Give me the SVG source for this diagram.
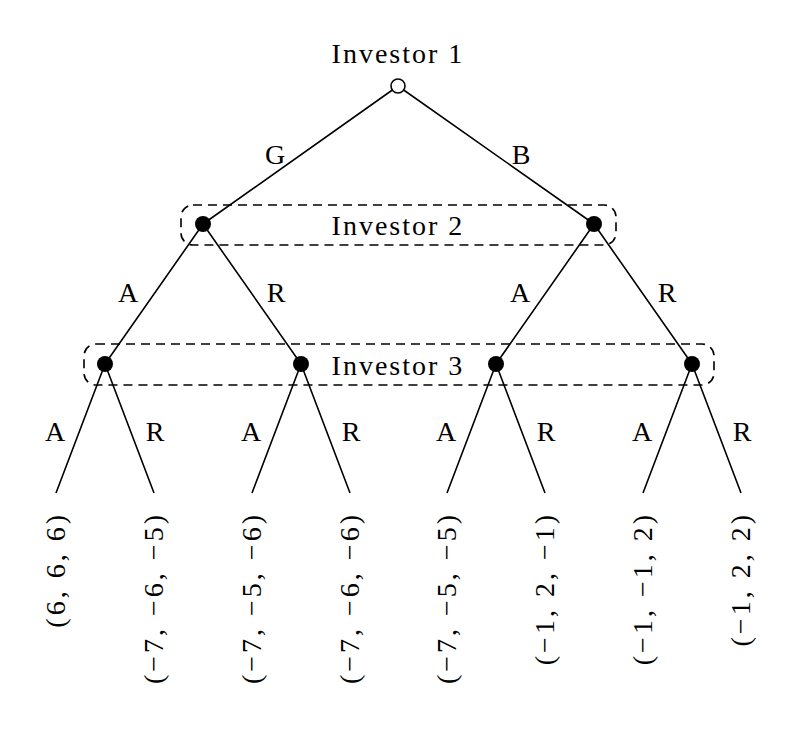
<svg xmlns="http://www.w3.org/2000/svg" width="800" height="732" viewBox="0 0 800 732">
<style>
text{font-family:"Liberation Serif","DejaVu Serif",serif;font-size:28px;fill:#000}
.e{stroke:#000;stroke-width:1.6;fill:none}
.d{stroke:#000;stroke-width:1.6;fill:none;stroke-dasharray:9 6}
.n{fill:#000}
.m{text-anchor:middle}
.i{letter-spacing:2px}
.l{text-anchor:end;letter-spacing:3px}
</style>
<rect width="800" height="732" fill="#fff"/>
<g id="connectors">
<path class="e" d="M398 86L203 224M398 86L594 224M203 224L105 364M203 224L301 364M594 224L496 364M594 224L692 364M105 364L56 493M105 364L154 493M301 364L252 493M301 364L350 493M496 364L447 493M496 364L545 493M692 364L643 493M692 364L741 493"/>
</g>
<g id="infosets">
<rect class="d" x="181" y="205" width="435" height="40" rx="12"/>
<rect class="d" x="84" y="344" width="630" height="41" rx="12"/>
</g>
<g id="root"><circle cx="398" cy="86" r="7" fill="#fff" stroke="#000" stroke-width="1.6"/><text class="m i" x="398" y="63">Investor 1</text></g>
<g id="n2a"><circle class="n" cx="203" cy="224" r="8"/></g>
<g id="n2b"><circle class="n" cx="594" cy="224" r="8"/></g>
<g id="n3a"><circle class="n" cx="105" cy="364" r="8"/></g>
<g id="n3b"><circle class="n" cx="301" cy="364" r="8"/></g>
<g id="n3c"><circle class="n" cx="496" cy="364" r="8"/></g>
<g id="n3d"><circle class="n" cx="692" cy="364" r="8"/></g>
<g id="labels">
<text class="m i" x="398" y="235">Investor 2</text>
<text class="m i" x="398" y="375">Investor 3</text>
<text class="m" x="275" y="164">G</text>
<text class="m" x="521" y="164">B</text>
<text class="m" x="128" y="302">A</text>
<text class="m" x="276" y="302">R</text>
<text class="m" x="520" y="302">A</text>
<text class="m" x="667" y="302">R</text>
<text class="m" x="55" y="441">A</text>
<text class="m" x="155" y="441">R</text>
<text class="m" x="251" y="441">A</text>
<text class="m" x="351" y="441">R</text>
<text class="m" x="446" y="441">A</text>
<text class="m" x="546" y="441">R</text>
<text class="m" x="642" y="441">A</text>
<text class="m" x="742" y="441">R</text>
</g>
<g id="leaves">
<text class="l" transform="translate(65 512) rotate(-90)">(6, 6, 6)</text>
<text class="l" transform="translate(163 512) rotate(-90)">(−7, −6, −5)</text>
<text class="l" transform="translate(261 512) rotate(-90)">(−7, −5, −6)</text>
<text class="l" transform="translate(359 512) rotate(-90)">(−7, −6, −6)</text>
<text class="l" transform="translate(456 512) rotate(-90)">(−7, −5, −5)</text>
<text class="l" transform="translate(554 512) rotate(-90)">(−1, 2, −1)</text>
<text class="l" transform="translate(652 512) rotate(-90)">(−1, −1, 2)</text>
<text class="l" transform="translate(750 512) rotate(-90)">(−1, 2, 2)</text>
</g>
</svg>
